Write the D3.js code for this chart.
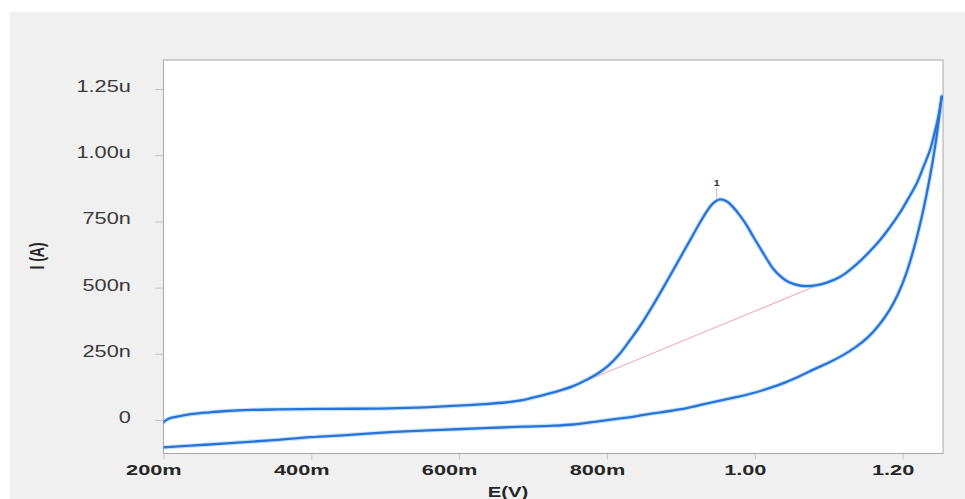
<!DOCTYPE html>
<html>
<head>
<meta charset="utf-8">
<script src="https://cdn.jsdelivr.net/npm/d3@7/dist/d3.min.js"></script>
<style>
  html, body { margin: 0; padding: 0; background: #ffffff; }
  svg { display: block; }
</style>
</head>
<body>
<svg id="chart" width="965" height="499"></svg>
<script>
// ---- Data (E in V, I in nA) ----
const forwardE = [0.2000, 0.2022, 0.2062, 0.2116, 0.2225, 0.2400, 0.2630, 0.2860, 0.3171, 0.3536,
                  0.4213, 0.5065, 0.5607, 0.5972, 0.6351, 0.6648, 0.6892, 0.7095, 0.7325, 0.7541,
                  0.7731, 0.7866, 0.8015, 0.8177, 0.8313, 0.8448, 0.8624, 0.8813, 0.8989, 0.9165,
                  0.9259, 0.9354, 0.9435, 0.9530, 0.9624, 0.9706, 0.9800, 0.9891, 0.9980, 1.0071,
                  1.0162, 1.0247, 1.0341, 1.0432, 1.0521, 1.0626, 1.0747, 1.0856, 1.0973, 1.1086,
                  1.1198, 1.1309, 1.1424, 1.1560, 1.1695, 1.1830, 1.1966, 1.2074, 1.2191, 1.2276,
                  1.2371, 1.2438, 1.2483, 1.2529];
const forwardI = [-9, -3, 4, 9, 15, 23, 29, 34, 38, 40,
                  42, 44, 49, 54, 60, 67, 77, 91, 108, 128,
                  153, 174, 204, 251, 302, 355, 434, 525, 612, 699,
                  746, 789, 818, 833, 825, 804, 772, 735, 692, 650,
                  608, 572, 544, 525, 514, 507, 506, 510, 519, 531,
                  548, 572, 600, 638, 680, 729, 784, 835, 894, 952,
                  1020, 1091, 1145, 1221];

const reverseE = [1.2529, 1.2492, 1.2452, 1.2398, 1.2330, 1.2249, 1.2154, 1.2046, 1.1938, 1.1816,
                  1.1681, 1.1532, 1.1369, 1.1194, 1.1018, 1.0815, 1.0612, 1.0432, 1.0206, 0.9980,
                  0.9760, 0.9530, 0.9300, 0.9079, 0.8853, 0.8627, 0.8407, 0.8177, 0.7906, 0.7545,
                  0.7230, 0.6869, 0.6418, 0.5968, 0.5512, 0.5066, 0.4524, 0.3983, 0.3442, 0.2856,
                  0.2427, 0.2000];
const reverseI = [1221, 1140, 1057, 963, 861, 755, 650, 551, 476, 412,
                  359, 313, 276, 245, 219, 193, 166, 144, 121, 102,
                  87, 73, 59, 45, 34, 25, 15, 6, -4, -17,
                  -22, -25, -30, -35, -40, -46, -56, -65, -77, -88,
                  -96, -103];

const baselineE = [0.772, 1.080];
const baselineI = [148, 503];

const peakE = [0.9485];
const peakI = [833];
const peakLabels = ["1"];

const xTicks = [0.2, 0.4, 0.6, 0.8, 1.0, 1.2];
const xTickLabels = ["200m", "400m", "600m", "800m", "1.00", "1.20"];
const yTicks = [0, 250, 500, 750, 1000, 1250];
const yTickLabels = ["0", "250n", "500n", "750n", "1.00u", "1.25u"];

const xTitle = "E(V)";
const yTitle = "I (A)";

// ---- Layout ----
const W = 965, H = 499;
const plot = { left: 163.4, top: 60, right: 943, bottom: 453.5 };
const SX = 1.45; // horizontal stretch of the text in the reference

const svg = d3.select("#chart");

// outer grey panel
svg.append("rect").attr("x", 10).attr("y", 12).attr("width", W - 10).attr("height", H - 12)
  .attr("fill", "#f0f0f0");

const x = d3.scaleLinear().domain([0.2, 1.2546]).range([plot.left, plot.right]);
const y = d3.scaleLinear().domain([-126.5, 1359.5]).range([plot.bottom, plot.top]);

// plot area
svg.append("rect")
  .attr("x", plot.left).attr("y", plot.top)
  .attr("width", plot.right - plot.left).attr("height", plot.bottom - plot.top)
  .attr("fill", "#ffffff");

// axes
const yAxis = d3.axisLeft(y).tickValues(yTicks).tickFormat((d, i) => yTickLabels[i]).tickSize(8).tickPadding(0);
const gy = svg.append("g").attr("transform", `translate(${plot.left},0)`).call(yAxis);
gy.select(".domain").remove();
gy.selectAll(".tick line").attr("stroke", "#c4c4c4");
gy.selectAll(".tick text")
  .attr("x", null).attr("dy", null)
  .attr("text-anchor", "end")
  .attr("transform", `translate(-32.5,2.5) scale(${SX},1.1)`)
  .attr("font-family", "Liberation Sans, Arial, sans-serif")
  .attr("font-size", 15)
  .attr("fill", "#3a3a3a");

const xAxis = d3.axisBottom(x).tickValues(xTicks).tickFormat((d, i) => xTickLabels[i]).tickSize(6).tickPadding(0);
const gx = svg.append("g").attr("transform", `translate(0,${plot.bottom})`).call(xAxis);
gx.select(".domain").remove();
gx.selectAll(".tick line").attr("stroke", "#c4c4c4");
gx.selectAll(".tick text")
  .attr("y", null).attr("dy", null)
  .attr("text-anchor", "middle")
  .attr("transform", `translate(-10,21.5) scale(${SX},1)`)
  .attr("font-family", "Liberation Sans, Arial, sans-serif")
  .attr("font-size", 15)
  .attr("font-weight", "bold")
  .attr("fill", "#262626");

// frame
svg.append("rect")
  .attr("x", plot.left).attr("y", plot.top)
  .attr("width", plot.right - plot.left).attr("height", plot.bottom - plot.top)
  .attr("fill", "none").attr("stroke", "#a8a8a8").attr("stroke-width", 1);

// axis titles
svg.append("text")
  .attr("transform", `translate(44,256) scale(${SX},1) rotate(-90)`)
  .attr("text-anchor", "middle")
  .attr("font-family", "Liberation Sans, Arial, sans-serif")
  .attr("font-size", 14).attr("font-weight", "bold").attr("fill", "#262626")
  .text(yTitle);

svg.append("text")
  .attr("transform", `translate(508,497) scale(${SX},1.1)`)
  .attr("text-anchor", "middle")
  .attr("font-family", "Liberation Sans, Arial, sans-serif")
  .attr("font-size", 14).attr("font-weight", "bold").attr("fill", "#262626")
  .text(xTitle);

// clip
svg.append("clipPath").attr("id", "clip").append("rect")
  .attr("x", plot.left).attr("y", plot.top - 4)
  .attr("width", plot.right - plot.left + 2).attr("height", plot.bottom - plot.top + 4);

const gPlot = svg.append("g").attr("clip-path", "url(#clip)");

// baseline
const baseData = baselineE.map((e, i) => [e, baselineI[i]]);
gPlot.append("path")
  .datum(baseData)
  .attr("d", d3.line().x(d => x(d[0])).y(d => y(d[1])))
  .attr("fill", "none").attr("stroke", "#f2b3c0").attr("stroke-width", 1.2);

// curves
const line = d3.line().x(d => x(d[0])).y(d => y(d[1])).curve(d3.curveCatmullRom.alpha(0.5));
const fwd = forwardE.map((e, i) => [e, forwardI[i]]);
const rev = reverseE.map((e, i) => [e, reverseI[i]]);

[fwd, rev].forEach(data => {
  gPlot.append("path").datum(data).attr("d", line)
    .attr("fill", "none").attr("stroke", "#9fd2ff").attr("stroke-width", 4.5)
    .attr("stroke-opacity", 0.6).attr("stroke-linecap", "round").attr("stroke-linejoin", "round");
});
[fwd, rev].forEach(data => {
  gPlot.append("path").datum(data).attr("d", line)
    .attr("fill", "none").attr("stroke", "#2a72d6").attr("stroke-width", 2.3)
    .attr("stroke-linecap", "round").attr("stroke-linejoin", "round");
});

// peak marker
peakE.forEach((e, i) => {
  const px = x(e), py = y(peakI[i]);
  svg.append("line")
    .attr("x1", px).attr("x2", px).attr("y1", py - 1).attr("y2", py - 12)
    .attr("stroke", "#d8b0b8").attr("stroke-width", 1);
  svg.append("text")
    .attr("transform", `translate(${px},${py - 13.5}) scale(1.2,1)`)
    .attr("text-anchor", "middle")
    .attr("font-family", "Liberation Sans, Arial, sans-serif")
    .attr("font-size", 9).attr("font-weight", "bold").attr("fill", "#333")
    .text(peakLabels[i]);
});
</script>
</body>
</html>
